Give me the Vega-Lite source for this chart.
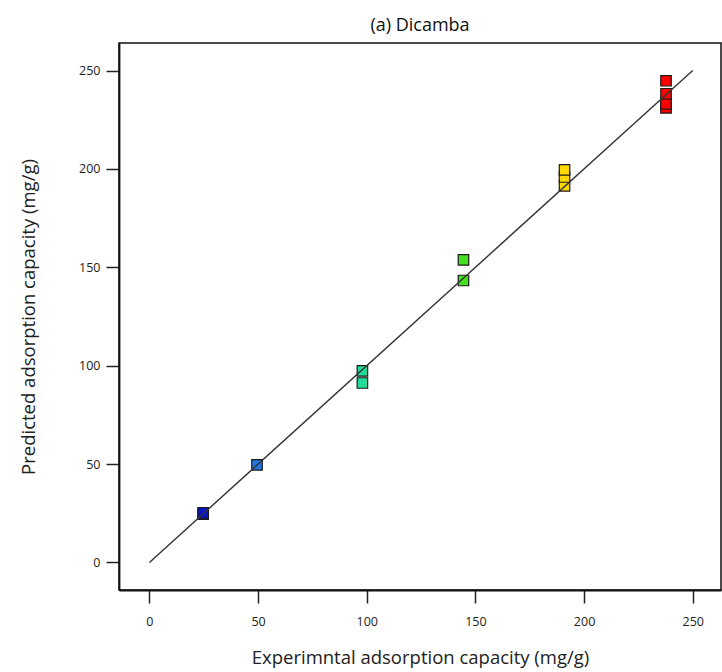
{
  "$schema": "https://vega.github.io/schema/vega-lite/v6.json",
  "width": 602,
  "height": 547,
  "autosize": "none",
  "padding": {"left": 119, "top": 43, "right": 1, "bottom": 82},
  "background": "white",
  "title": {"text": "(a) Dicamba", "font": "Open Sans", "fontSize": 18, "fontWeight": "normal", "color": "#111", "offset": 8, "anchor": "middle"},
  "config": {
    "view": {"stroke": "#111", "strokeWidth": 1.5},
    "axis": {"grid": false, "domainColor": "#111", "domainWidth": 1.8, "tickColor": "#222", "tickWidth": 1.5, "tickSize": 13, "labelFont": "Open Sans", "labelFontSize": 12.5, "labelColor": "#222", "titleFont": "Open Sans", "titleFontSize": 18.5, "titleFontWeight": "normal", "titleColor": "#222"}
  },
  "datasets": {
    "pts": [
      {"group": "g1", "exp": 24.7, "pred": 24.5},
      {"group": "g1", "exp": 24.7, "pred": 25.2},
      {"group": "g2", "exp": 49.5, "pred": 49.6},
      {"group": "g3", "exp": 98.0, "pred": 91.2},
      {"group": "g3", "exp": 98.0, "pred": 97.4},
      {"group": "g4", "exp": 144.5, "pred": 153.8},
      {"group": "g4", "exp": 144.5, "pred": 143.3},
      {"group": "g5", "exp": 191.0, "pred": 191.4},
      {"group": "g5", "exp": 191.0, "pred": 195.9},
      {"group": "g5", "exp": 191.0, "pred": 199.5},
      {"group": "g6", "exp": 237.7, "pred": 231.0},
      {"group": "g6", "exp": 237.7, "pred": 233.1},
      {"group": "g6", "exp": 237.7, "pred": 238.2},
      {"group": "g6", "exp": 237.7, "pred": 244.8}
    ],
    "fit": [
      {"exp": 0, "pred": 0},
      {"exp": 250, "pred": 250}
    ]
  },
  "layer": [
    {
      "data": {"name": "pts"},
      "mark": {"type": "square", "size": 110, "stroke": "#1a1a1a", "strokeWidth": 1.2, "opacity": 1, "fillOpacity": 1},
      "encoding": {
        "x": {"field": "exp", "type": "quantitative", "scale": {"domain": [-14, 263], "nice": false, "zero": false}, "axis": {"values": [0, 50, 100, 150, 200, 250], "labelPadding": 12, "titlePadding": 21, "title": "Experimntal adsorption capacity (mg/g)"}},
        "y": {"field": "pred", "type": "quantitative", "scale": {"domain": [-14, 264], "nice": false, "zero": false}, "axis": {"values": [0, 50, 100, 150, 200, 250], "labelPadding": 6, "titlePadding": 40, "title": "Predicted adsorption capacity (mg/g)"}},
        "fill": {"field": "group", "type": "nominal", "legend": null, "scale": {"domain": ["g1", "g2", "g3", "g4", "g5", "g6"], "range": ["#0a14c8", "#2277e0", "#22dd99", "#44e020", "#ffd800", "#ff0000"]}}
      }
    },
    {
      "data": {"name": "fit"},
      "mark": {"type": "line", "color": "#333", "strokeWidth": 1.4},
      "encoding": {
        "x": {"field": "exp", "type": "quantitative"},
        "y": {"field": "pred", "type": "quantitative"}
      }
    }
  ]
}
